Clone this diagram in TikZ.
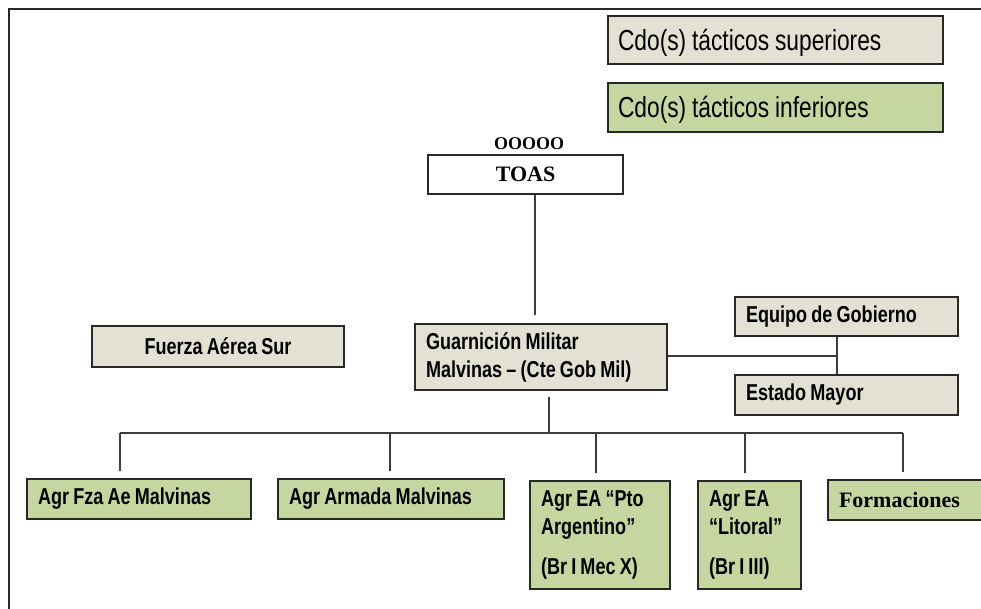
\documentclass[tikz,border=0pt]{standalone}
\usepackage{fontspec}
\setmainfont{Liberation Serif}
\newfontfamily\narrow[FakeStretch=0.785,WordSpace=0.75]{Liberation Sans}
\definecolor{beige}{RGB}{226,225,211}
\definecolor{leaf}{RGB}{198,214,160}
\definecolor{edge}{RGB}{40,40,40}
\definecolor{wire}{RGB}{60,60,60}
\tikzset{
  box/.style={draw=edge, line width=1.4pt, inner sep=0pt, align=left,
    font={\narrow\bfseries\fontsize{23}{28}\selectfont},
    execute at begin node={\spaceskip=4.2pt\relax}},
  legendbox/.style={draw=edge, line width=1.4pt, inner sep=0pt, align=left,
    font={\narrow\fontsize{29}{32}\selectfont}, text depth=1pt,
    execute at begin node={\spaceskip=5.8pt\relax}},
  serifbold/.style={font={\bfseries\fontsize{22}{26}\selectfont}},
  wireline/.style={draw=wire, line width=1.2pt},
}
\begin{document}
\begin{tikzpicture}[x=1pt,y=-1pt]
\useasboundingbox (0,0) rectangle (981,609);
% frame
\draw[line width=2pt, draw=edge] (9,611) -- (9,9) -- (983,9);

% legend
\node[legendbox, fill=beige, minimum width=335pt, minimum height=48pt, text width=315pt] (sup) at (775.5,40) {Cdo(s) tácticos superiores};
\node[legendbox, fill=leaf, minimum width=335pt, minimum height=49pt, text width=315pt] (inf) at (775.5,107.5) {Cdo(s) tácticos inferiores};

% TOAS
\node[font={\bfseries\fontsize{18}{20}\selectfont}, anchor=base, inner sep=0pt] (ooo) at (529,150) {OOOOO};
\node[draw=edge, line width=1.2pt, fill=white, serifbold, minimum width=195pt, minimum height=39pt, inner sep=0pt] (toas) at (525.5,174.5) {TOAS};

% middle row
\node[box, fill=beige, minimum width=252pt, minimum height=41pt, align=center] (fas) at (218,346.5) {Fuerza Aérea Sur};
\node[box, fill=beige, minimum width=252pt, minimum height=66pt, text width=230pt] (gm) at (541,357) {Guarnición Militar\\Malvinas – (Cte Gob Mil)};
\node[box, fill=beige, minimum width=223pt, minimum height=39pt, text width=201pt] (eg) at (846.5,316.5) {Equipo de Gobierno};
\node[box, fill=beige, minimum width=223pt, minimum height=40pt, text width=201pt] (em) at (846.5,395) {Estado Mayor};

% bottom row
\node[box, fill=leaf, minimum width=224pt, minimum height=40pt, text width=202pt] (fza) at (139,499) {Agr Fza Ae Malvinas};
\node[box, fill=leaf, minimum width=226pt, minimum height=40pt, text width=204pt] (arm) at (391,499) {Agr Armada Malvinas};
\node[box, fill=leaf, minimum width=140pt, minimum height=108pt, text width=118pt] (pto) at (600,535) {Agr EA “Pto\\Argentino”\\[12pt](Br I Mec X)};
\node[box, fill=leaf, minimum width=103pt, minimum height=108pt, text width=81pt] (lit) at (749.5,535) {Agr EA\\“Litoral”\\[12pt](Br I III)};
\node[box, fill=leaf, serifbold, minimum width=157pt, minimum height=40pt, text width=135pt] (form) at (906.5,500) {Formaciones};

% connectors
\draw[wireline, shorten >=8pt] ([xshift=9.5pt]toas.south) -- ([xshift=9.5pt]toas.south |- gm.north);
\coordinate (j) at (837,356);
\draw[wireline] (gm.east |- j) -- (j);
\draw[wireline] (j |- eg.south) -- (j |- em.north);

\coordinate (bus) at (549,433);
\draw[wireline, shorten <=6pt] (bus |- gm.south) -- (bus);
\coordinate (d1) at (120,433);
\coordinate (d2) at (390,433);
\coordinate (d3) at (596,433);
\coordinate (d4) at (745,433);
\coordinate (d5) at (903,433);
\draw[wireline] (d1) -- (d5);
\draw[wireline, shorten >=7pt] (d1) -- (d1 |- fza.north);
\draw[wireline, shorten >=7pt] (d2) -- (d2 |- arm.north);
\draw[wireline, shorten >=7pt] (d3) -- (d3 |- pto.north);
\draw[wireline, shorten >=7pt] (d4) -- (d4 |- lit.north);
\draw[wireline, shorten >=7pt] (d5) -- (d5 |- form.north);
\end{tikzpicture}
\end{document}
